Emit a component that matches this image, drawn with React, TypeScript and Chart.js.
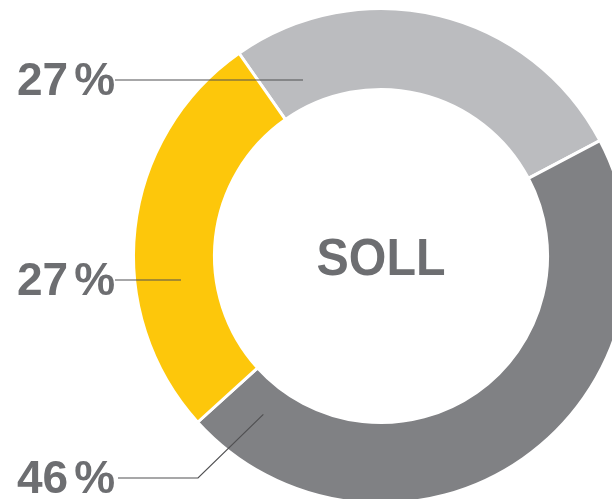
import React, { useEffect, useRef } from "react";
import { Chart, registerables } from "chart.js";

Chart.register(...registerables);

const categories = ["Segment A", "Segment B", "Segment C"];
const values = [27, 46, 27];
const colors = ["#bbbcbf", "#808184", "#fdc70b"];
const labelTexts = ["27", "46", "27"]; // label per segment
const centerText = "SOLL";

const TEXT_COLOR = "#6d6e71";
const FONT = '"Liberation Sans", Arial, Helvetica, sans-serif';

// label layout: [segment index, text x, baseline y, line start x, elbow x or null, anchor angle deg (clockwise from top), anchor radius fraction]
const labelLayout: Array<[number, number, number, number, number | null, number, number]> = [
  [0, 17, 95, 115, null, -23.9, 0.32],
  [2, 17, 295, 115, null, 263.2, 0.43],
  [1, 17, 493, 118, 198, 216.6, 0.38],
];

const labelsPlugin = {
  id: "donutLabels",
  afterDraw(chart: any) {
    const ctx = chart.ctx as CanvasRenderingContext2D;
    const meta = chart.getDatasetMeta(0);
    const arc0 = meta.data[0] as any;
    const cx = arc0.x;
    const cy = arc0.y;
    const inner = arc0.innerRadius;
    const outer = arc0.outerRadius;
    ctx.save();
    // center text (slightly condensed)
    ctx.save();
    ctx.translate(cx, cy + 19);
    ctx.scale(0.93, 1);
    ctx.fillStyle = TEXT_COLOR;
    ctx.font = `bold 52px ${FONT}`;
    ctx.textAlign = "center";
    ctx.textBaseline = "alphabetic";
    ctx.fillText(centerText, 0, 0);
    ctx.restore();

    labelLayout.forEach(([idx, tx, ty, lx, elbow, angDeg, frac]) => {
      const a = (angDeg * Math.PI) / 180;
      const r = inner + frac * (outer - inner);
      const ax = cx + r * Math.sin(a);
      const ay = cy - r * Math.cos(a);
      const ly = ty - 15;
      // text
      ctx.fillStyle = TEXT_COLOR;
      ctx.font = `bold 46px ${FONT}`;
      ctx.textAlign = "left";
      const num = labelTexts[idx];
      ctx.fillText(num, tx, ty);
      const w = ctx.measureText(num).width;
      ctx.fillText("%", tx + w + 6, ty);
      // leader line
      ctx.strokeStyle = "#505052";
      ctx.lineWidth = 1.2;
      ctx.beginPath();
      ctx.moveTo(lx, ly);
      if (elbow !== null) {
        ctx.lineTo(elbow, ly);
      }
      ctx.lineTo(ax, elbow !== null ? ay : ly);
      ctx.stroke();
    });
    ctx.restore();
  },
};

export default function App() {
  const ref = useRef<HTMLCanvasElement | null>(null);
  useEffect(() => {
    if (!ref.current) return;
    const chart = new Chart(ref.current, {
      type: "doughnut",
      data: {
        labels: categories,
        datasets: [
          {
            data: values,
            backgroundColor: colors,
            borderColor: "#ffffff",
            borderWidth: 3,
            hoverOffset: 0,
            hoverBorderWidth: 3,
          },
        ],
      },
      options: {
        responsive: false,
        animation: false,
        rotation: -35,
        cutout: "67.3%",
        layout: { padding: { left: 132, top: 7, right: 0, bottom: 0 } },
        plugins: {
          legend: { display: false },
          tooltip: { enabled: false },
        },
        events: [],
      },
      plugins: [labelsPlugin],
    });
    return () => chart.destroy();
  }, []);
  return (
    <div
      style={{
        position: "fixed",
        left: 0,
        top: 0,
        width: 612,
        height: 499,
        overflow: "hidden",
        background: "#ffffff",
      }}
    >
      <canvas
        ref={ref}
        width={630}
        height={505}
        style={{ position: "absolute", left: 0, top: 0, width: 630, height: 505 }}
      />
    </div>
  );
}
